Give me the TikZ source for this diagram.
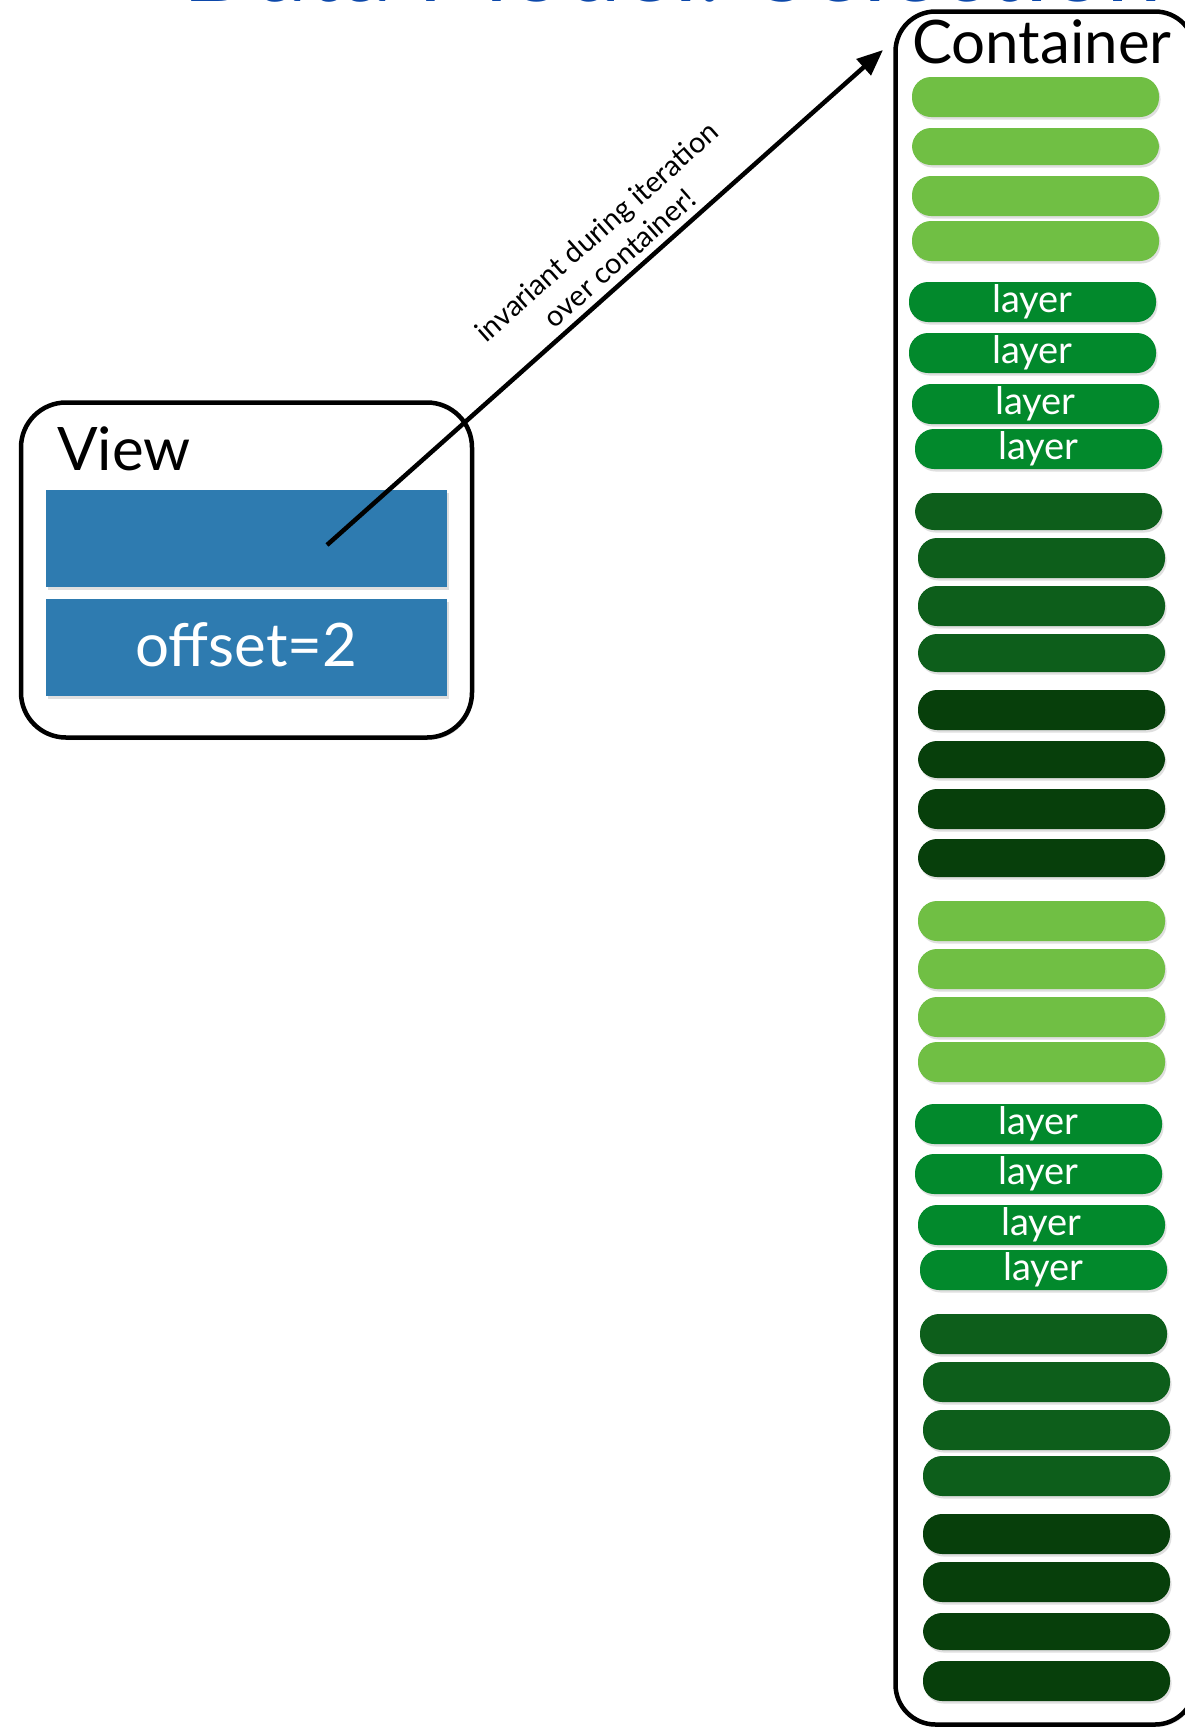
\documentclass[tikz,border=0pt]{standalone}
\usepackage{fontspec}
\setmainfont{Lato}
\usetikzlibrary{arrows.meta,shadows}
\definecolor{lightg}{RGB}{112,191,68}
\definecolor{layerg}{RGB}{2,137,44}
\definecolor{midg}{RGB}{13,94,27}
\definecolor{darkg}{RGB}{7,63,11}
\definecolor{viewblue}{RGB}{46,123,176}
\definecolor{titleblue}{RGB}{12,72,170}
\begin{document}
\begin{tikzpicture}[x=1pt,y=-1pt,
  softshadow/.style={drop shadow={opacity=0.25, shadow xshift=1.5pt, shadow yshift=-2.5pt}},
  pill/.style={rectangle, rounded corners=19pt, minimum width=247pt, inner sep=0pt, softshadow},
  layertext/.style={text=white, font=\fontsize{38}{40}\selectfont},
  frame/.style={draw=black, line width=4.5pt, fill=white, inner sep=0pt},
  bluebar/.style={fill=viewblue, minimum width=401pt, minimum height=97pt, inner sep=0pt, softshadow},
  bigtext/.style={font=\fontsize{60}{62}\selectfont, inner sep=0pt},
  arrowlabel/.style={sloped, above, align=center, font=\fontsize{29}{35}\selectfont, inner sep=7pt}
]
\useasboundingbox (0,0) rectangle (1184,1727);

% partly visible title
\node[anchor=base west, text=titleblue, font=\fontsize{100}{110}\selectfont, inner sep=0pt] (title) at (182,1) {Data Model: Selection};

% container
\node[frame, rounded corners=40pt, minimum width=299.5pt, minimum height=1713pt, softshadow] (container) at (1045.25,868) {};
\node[bigtext, anchor=base] (ctitle) at (1042,63) {Container};

% plain pills
\foreach \n/\xl/\yt/\yb/\col in {
  1/912/77/117/lightg, 2/912/128/165/lightg, 3/912/176/216/lightg, 4/912/221/261/lightg,
  9/915/493/530/midg, 10/918/538/578/midg, 11/918/586/626/midg, 12/918/634/672/midg,
  13/918/690/730/darkg, 14/918/741/778/darkg, 15/918/789/829/darkg, 16/918/839/877/darkg,
  17/918/901/941/lightg, 18/918/949/989/lightg, 19/918/997/1037/lightg, 20/918/1042/1082/lightg,
  25/920/1314/1354/midg, 26/923/1362/1402/midg, 27/923/1410/1450/midg, 28/923/1456/1496/midg,
  29/923/1514/1554/darkg, 30/923/1562/1602/darkg, 31/923/1613/1650/darkg, 32/923/1661/1701/darkg}
  \node[pill, fill=\col, minimum height=\yb-\yt] (p\n) at ({\xl+123.5},{(\yt+\yb)/2}) {};

% layer pills
\foreach \n/\xl/\yt/\yb in {
  5/909/282/322, 6/909/333/373, 7/912/384/424, 8/915/429/469,
  21/915/1104/1144, 22/915/1154/1194, 23/918/1205/1245, 24/920/1250/1290}
  \node[pill, fill=layerg, layertext, minimum height=\yb-\yt] (p\n) at ({\xl+123.5},{(\yt+\yb)/2}) {layer};

% view
\node[frame, rounded corners=45pt, minimum width=451pt, minimum height=335pt, softshadow] (view) at (246.5,570) {};
\node[bigtext, anchor=base west] (vtitle) at (57,470) {View};
\node[bluebar] (r1) at (246.5,538.5) {};
\node[bluebar] (r2) at (246.5,647.5) {};
\node[bigtext, anchor=base, text=white] (off) at (246.5,666) {offset=2};

% arrow
\coordinate (src) at (327,545);
\coordinate (dst) at (883,50);
\draw[line width=4.5pt, -{Triangle[length=26pt,width=21pt]}] (src) -- node[arrowlabel, pos=0.55] (lbl) {invariant during iteration\\over container!} (dst);
\end{tikzpicture}
\end{document}
